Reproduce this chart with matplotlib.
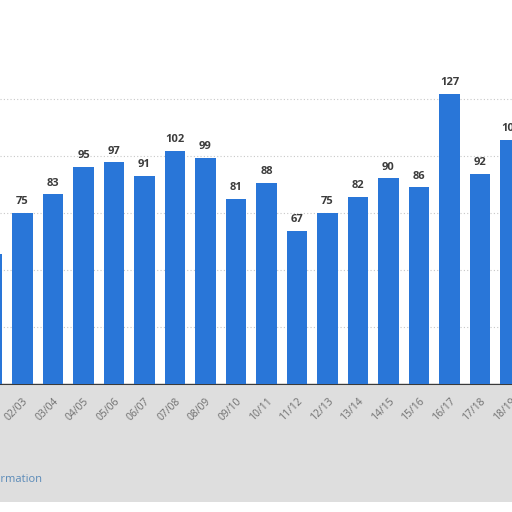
import matplotlib.pyplot as plt
from matplotlib.patches import Rectangle

# seasons shown (first and last are cut by the frame edges)
seasons = ["01/02", "02/03", "03/04", "04/05", "05/06", "06/07", "07/08", "08/09",
           "09/10", "10/11", "11/12", "12/13", "13/14", "14/15", "15/16", "16/17",
           "17/18", "18/19"]
values = [57, 75, 83, 95, 97, 91, 102, 99, 81, 88, 67, 75, 82, 90, 86, 127, 92, 107]
grid_levels = [25, 50, 75, 100, 125]

BAR_COLOR = "#2976d8"
LABEL_COLOR = "#3c3c3c"
TICK_COLOR = "#6f6f6f"

plt.rcParams["font.family"] = ["Open Sans", "DejaVu Sans"]

fig = plt.figure(figsize=(5.12, 5.12), dpi=100)
fig.patch.set_facecolor("white")

# blurred grey footer band behind the category labels
fig.patches.append(Rectangle((0, 10 / 512), 1, 116 / 512, transform=fig.transFigure,
                             facecolor="#dedede", edgecolor="none", zorder=0))

ax = fig.add_axes([0, 1 - 383.5 / 512, 1, 383.5 / 512])
ax.set_zorder(2)
ax.set_facecolor("none")

x = list(range(len(seasons)))
bars = ax.bar(x, values, width=0.68, color=BAR_COLOR, zorder=3)

for rect, v in zip(bars, values):
    ax.annotate(str(v), (rect.get_x() + rect.get_width() / 2, v),
                xytext=(0, 4), textcoords="offset points",
                ha="center", va="bottom", fontsize=8, fontweight="bold",
                color=LABEL_COLOR, zorder=4)

ax.set_yticks(grid_levels)
ax.yaxis.grid(True, linestyle=(0, (1, 2)), color="#c8c8c8", linewidth=0.8, zorder=0)
ax.tick_params(axis="y", left=False, labelleft=False)

ax.set_xticks(x)
ax.set_xticklabels(seasons, rotation=45, ha="right", va="top",
                   rotation_mode="anchor", fontsize=7.5, color=TICK_COLOR)
ax.tick_params(axis="x", length=0, pad=9)

# limits after the ticks, otherwise set_xticks widens the view
ax.set_xlim(0.262, 17.05)
ax.set_ylim(0, 383.5 / 2.28)

for side in ("top", "left", "right"):
    ax.spines[side].set_visible(False)
ax.spines["bottom"].set_color("#3a3a3a")
ax.spines["bottom"].set_linewidth(1.0)

fig.text(42 / 512, 1 - 479 / 512, "Additional Information", ha="right", va="center",
         fontsize=8, color="#5a8ab8")

fig.savefig("out.png", dpi=100)
